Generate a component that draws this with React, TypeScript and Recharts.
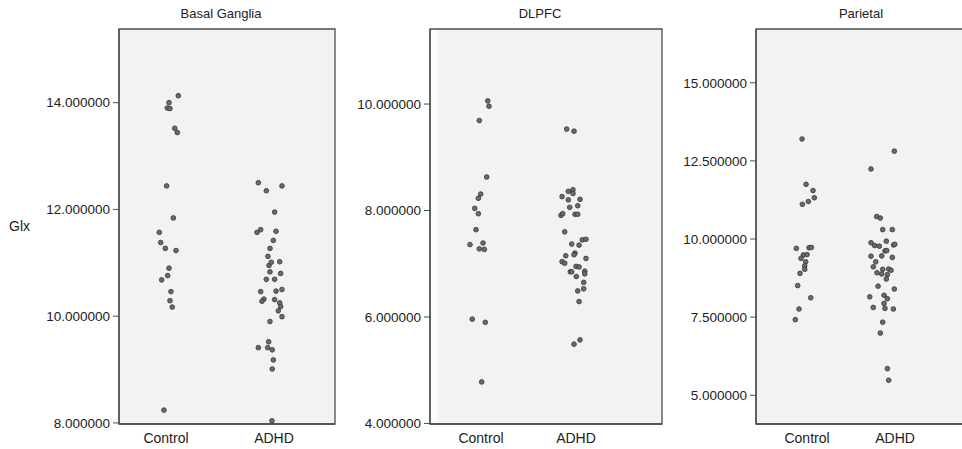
import React from 'react';
import { ScatterChart, Scatter, XAxis, YAxis, CartesianGrid, ReferenceArea } from 'recharts';

// ---------- Data ----------
const groups = ['Control', 'ADHD'];

// Basal Ganglia
const bgControlGlx = [14.13, 14.0, 13.9, 13.89, 13.52, 13.44, 12.44, 11.84, 11.57, 11.38, 11.27, 11.23, 10.9, 10.76, 10.68, 10.46, 10.29, 10.17, 8.24];
const bgControlX = [1.114, 1.028, 1.012, 1.037, 1.081, 1.105, 1.006, 1.068, 0.938, 0.951, 0.994, 1.093, 1.028, 1.016, 0.96, 1.046, 1.037, 1.058, 0.981];
const bgAdhdGlx = [12.5, 12.35, 12.44, 11.95, 11.57, 11.62, 11.59, 11.42, 11.27, 11.12, 10.95, 11.01, 11.02, 10.83, 10.8, 10.69, 10.69, 10.46, 10.47, 10.5, 10.32, 10.28, 10.31, 10.25, 10.18, 10.1, 9.99, 9.9, 9.52, 9.41, 9.41, 9.37, 9.18, 9.01, 8.04];
const bgAdhdX = [1.855, 1.929, 2.074, 2.006, 1.843, 1.877, 2.019, 1.994, 1.963, 1.944, 1.954, 1.975, 2.053, 1.963, 2.062, 1.929, 2.006, 1.877, 2.019, 2.074, 1.907, 1.889, 2.006, 2.053, 2.062, 2.04, 2.074, 1.963, 1.951, 1.855, 1.942, 1.984, 1.994, 1.984, 1.981];

// DLPFC
const dlControlGlx = [10.06, 9.96, 9.69, 8.63, 8.31, 8.23, 8.04, 7.94, 7.64, 7.36, 7.39, 7.28, 7.27, 5.96, 5.9, 4.78];
const dlControlX = [1.071, 1.084, 0.982, 1.06, 0.997, 0.972, 0.934, 0.972, 0.947, 0.884, 1.021, 0.982, 1.035, 0.908, 1.045, 1.007];
const dlAdhdGlx = [9.53, 9.49, 8.36, 8.39, 8.32, 8.26, 8.2, 8.21, 8.06, 8.09, 7.91, 7.94, 7.93, 7.93, 7.6, 7.45, 7.46, 7.37, 7.35, 7.2, 7.17, 7.15, 7.1, 7.04, 7.01, 6.95, 6.94, 6.85, 6.85, 6.86, 6.81, 6.76, 6.65, 6.49, 6.53, 6.29, 5.57, 5.49];
const dlAdhdX = [1.902, 1.979, 1.919, 1.968, 1.968, 1.853, 1.919, 2.042, 1.934, 2.018, 1.842, 1.86, 1.989, 2.018, 1.881, 2.066, 2.105, 1.955, 2.032, 1.989, 1.979, 1.892, 2.105, 1.853, 1.881, 2.0, 2.032, 1.94, 1.955, 2.092, 2.092, 2.003, 2.081, 2.018, 2.081, 2.032, 2.042, 1.979];

// Parietal
const paControlGlx = [13.2, 11.75, 11.55, 11.32, 11.2, 11.11, 9.7, 9.72, 9.73, 9.49, 9.5, 9.38, 9.27, 9.14, 9.03, 8.9, 8.51, 8.12, 7.76, 7.42];
const paControlX = [0.943, 0.989, 1.068, 1.083, 1.015, 0.947, 0.878, 1.023, 1.049, 0.958, 1.0, 0.932, 0.985, 0.974, 0.974, 0.92, 0.894, 1.042, 0.909, 0.867];
const paAdhdGlx = [12.81, 12.24, 10.72, 10.67, 10.3, 10.3, 9.93, 9.88, 9.79, 9.77, 9.81, 9.83, 9.62, 9.63, 9.45, 9.46, 9.41, 9.27, 9.11, 9.03, 9.04, 9.0, 8.92, 8.88, 8.86, 8.72, 8.49, 8.4, 8.15, 8.2, 8.09, 7.94, 7.81, 7.78, 7.76, 7.34, 6.99, 5.85, 5.48];
const paAdhdX = [1.992, 1.727, 1.792, 1.833, 1.86, 1.969, 1.901, 1.727, 1.769, 1.822, 1.985, 1.997, 1.886, 1.906, 1.727, 1.849, 1.969, 1.781, 1.753, 1.86, 1.928, 1.955, 1.795, 1.849, 1.913, 1.901, 1.807, 1.992, 1.713, 1.875, 1.913, 1.875, 1.753, 1.886, 1.981, 1.86, 1.833, 1.913, 1.928];

const bgTicks = [8, 10, 12, 14];
const dlTicks = [4, 6, 8, 10];
const paTicks = [5, 7.5, 10, 12.5, 15];

const panelTitles = ['Basal Ganglia', 'DLPFC', 'Parietal'];
const yAxisTitle = 'Glx';

// ---------- Helpers ----------
const toPoints = (xs: number[], ys: number[]) => xs.map((x, i) => ({ x, y: ys[i] }));

const FONT = '"Liberation Sans", Arial, sans-serif';
const BORDER = '#4d4d4d';

const Dot = (props: any) => {
  const { cx, cy } = props;
  if (cx == null || cy == null) return null;
  return <circle cx={cx} cy={cy} r={2.35} fill="#6b6b6b" stroke="#333" strokeWidth={0.8} />;
};

type PanelProps = {
  left: number;
  width: number;
  yAxisWidth: number;
  rightMargin: number;
  xDomain: [number, number];
  yDomain: [number, number];
  yTicks: number[];
  control: { x: number; y: number }[];
  adhd: { x: number; y: number }[];
  strip?: number;
  showYLabel?: boolean;
};

const Panel = (p: PanelProps) => (
  <div style={{ position: 'absolute', left: p.left, top: 0 }}>
    <ScatterChart
      width={p.width}
      height={449}
      margin={{ top: 29, right: p.rightMargin, bottom: 0, left: 0 }}
    >
      <CartesianGrid fill="#f2f2f2" horizontal={false} vertical={false} />
      {p.strip ? (
        <ReferenceArea
          x1={p.xDomain[0]}
          x2={p.xDomain[0] + p.strip}
          y1={p.yDomain[0]}
          y2={p.yDomain[1]}
          fill="#fbfbfb"
          fillOpacity={1}
          stroke="none"
        />
      ) : null}
      <XAxis
        type="number"
        dataKey="x"
        domain={p.xDomain}
        ticks={[1, 2]}
        interval={0}
        allowDataOverflow
        height={25}
        tickLine={false}
        tickSize={6}
        tickMargin={3}
        tickFormatter={(v: number) => groups[Math.round(v) - 1]}
        tick={{ fontSize: 14, fill: '#222', fontFamily: FONT }}
        axisLine={{ stroke: BORDER, strokeWidth: 1.3 }}
      />
      <YAxis
        type="number"
        dataKey="y"
        domain={p.yDomain}
        ticks={p.yTicks}
        interval={0}
        allowDataOverflow
        width={p.yAxisWidth}
        tickSize={6}
        tickMargin={3}
        tickFormatter={(v: number) => v.toFixed(6)}
        tick={{ fontSize: 13.5, fill: '#222', fontFamily: FONT }}
        tickLine={{ stroke: BORDER }}
        axisLine={{ stroke: BORDER, strokeWidth: 1.3 }}
        label={
          p.showYLabel
            ? { value: yAxisTitle, angle: 0, position: 'insideLeft', offset: 9, style: { fontSize: 14, fill: '#222', fontFamily: FONT } }
            : undefined
        }
      />
      <Scatter data={p.control} shape={Dot} isAnimationActive={false} />
      <Scatter data={p.adhd} shape={Dot} isAnimationActive={false} />
      <ReferenceArea
        x1={p.xDomain[0]}
        x2={p.xDomain[1]}
        y1={p.yDomain[0]}
        y2={p.yDomain[1]}
        fill="none"
        stroke={BORDER}
        strokeWidth={1.3}
      />
    </ScatterChart>
  </div>
);

const Title = ({ text, center }: { text: string; center: number }) => (
  <div
    style={{
      position: 'absolute',
      left: center - 100,
      top: 6,
      width: 200,
      textAlign: 'center',
      fontFamily: FONT,
      fontSize: 13,
      lineHeight: '16px',
      color: '#222',
    }}
  >
    {text}
  </div>
);

export default function App() {
  return (
    <div
      style={{
        position: 'absolute',
        left: 0,
        top: 0,
        width: 962,
        height: 449,
        overflow: 'hidden',
        background: '#fff',
      }}
    >
      <Panel
        left={0}
        width={340}
        yAxisWidth={119}
        rightMargin={5}
        xDomain={[0.565, 2.565]}
        yDomain={[7.98, 15.38]}
        yTicks={bgTicks}
        control={toPoints(bgControlX, bgControlGlx)}
        adhd={toPoints(bgAdhdX, bgAdhdGlx)}
        showYLabel
      />
      <Panel
        left={340}
        width={327}
        yAxisWidth={90}
        rightMargin={5}
        xDomain={[0.463, 2.905]}
        yDomain={[3.99, 11.41]}
        yTicks={dlTicks}
        control={toPoints(dlControlX, dlControlGlx)}
        adhd={toPoints(dlAdhdX, dlAdhdGlx)}
        strip={0.085}
      />
      <Panel
        left={667}
        width={300}
        yAxisWidth={89}
        rightMargin={0}
        xDomain={[0.42, 2.818]}
        yDomain={[4.08, 16.72]}
        yTicks={paTicks}
        control={toPoints(paControlX, paControlGlx)}
        adhd={toPoints(paAdhdX, paAdhdGlx)}
      />
      <Title text={panelTitles[0]} center={221} />
      <Title text={panelTitles[1]} center={540} />
      <Title text={panelTitles[2]} center={861} />
    </div>
  );
}
